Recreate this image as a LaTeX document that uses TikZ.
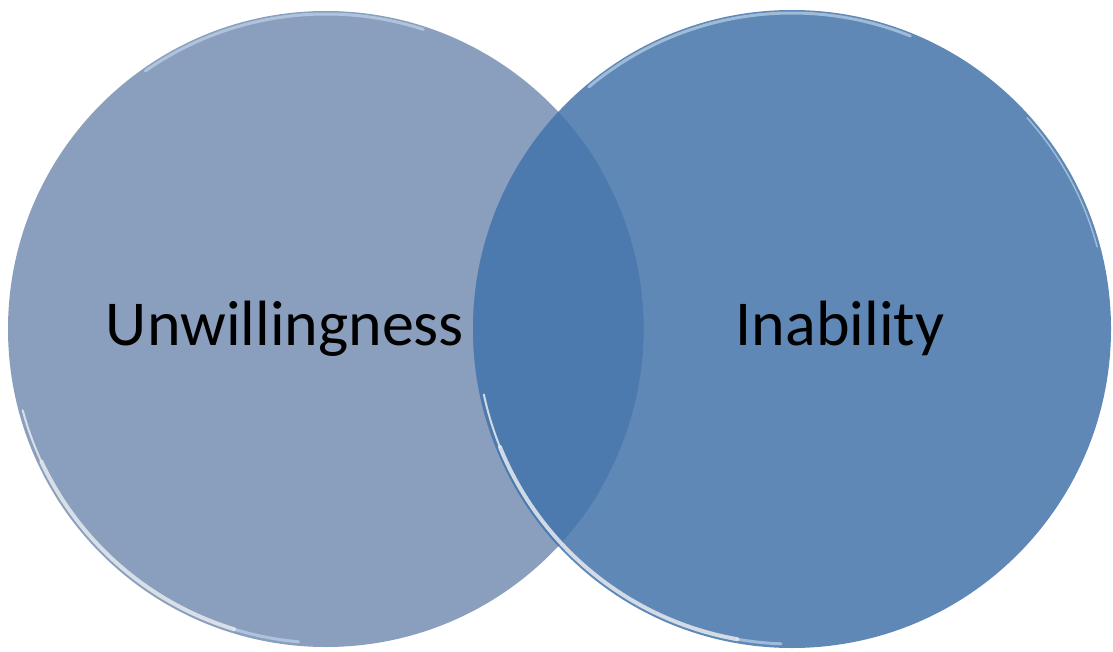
\documentclass[tikz,border=0pt]{standalone}
\usepackage{fontspec}
\setmainfont{Carlito}
\begin{document}
\begin{tikzpicture}[x=1pt,y=-1pt,
  leftfill/.style={fill=leftc},
  rightfill/.style={fill=rightc},
  rimwhite/.style={draw=rimw,line width=4pt,opacity=0.85,line cap=round},
  rimtop/.style={draw=rimhi,line width=3pt,opacity=0.6,line cap=round},
  label/.style={font=\fontsize{64}{64}\selectfont,text=black,inner sep=0pt,anchor=base}]
\definecolor{leftc}{HTML}{8A9FBE}
\definecolor{rightc}{HTML}{5F88B6}
\definecolor{overc}{HTML}{4D7AAE}
\definecolor{rimhi}{HTML}{C8DDF0}
\definecolor{rimw}{HTML}{E8EBEF}
\useasboundingbox (0,0) rectangle (1113,652);
% circles
\coordinate (cl) at (326,329);
\coordinate (cr) at (792,329);
\fill[leftfill] (cl) circle (318);
\fill[rightfill] (cr) circle (319);
\begin{scope}
  \clip (cl) circle (318);
  \fill[overc] (cr) circle (319);
\end{scope}
% faint edge of left circle inside overlap
\draw[leftc!60!overc,line width=0.6pt,opacity=0.5] ([shift={(-30:318)}]cl) arc (-30:30:318);
% glass rims (y axis points down: 90 = bottom, 270 = top)
\draw[rimhi,line width=3pt,opacity=0.6,line cap=round] ([shift={(95:314)}]cl) arc (95:107:314);
\draw[rimwhite] ([shift={(107:314)}]cl) arc (107:155:314);
\draw[rimwhite,line width=2pt] ([shift={(155:314)}]cl) arc (155:165:314);
\draw[rimtop] ([shift={(235:315)}]cl) arc (235:288:315);
\draw[rimhi,line width=3pt,opacity=0.6,line cap=round] ([shift={(92:315)}]cr) arc (92:100:315);
\draw[rimwhite] ([shift={(100:315)}]cr) arc (100:158:315);
\draw[rimwhite,line width=2pt] ([shift={(158:315)}]cr) arc (158:168:315);
\draw[rimtop] ([shift={(230:316)}]cr) arc (230:292:316);
\draw[rimhi,line width=1.5pt,opacity=0.6] ([shift={(318:316)}]cr) arc (318:345:316);
% labels
\node[label] (u) at (285,345) {Unwillingness};
\node[label] (i) at (840,345) {Inability};
\end{tikzpicture}
\end{document}
